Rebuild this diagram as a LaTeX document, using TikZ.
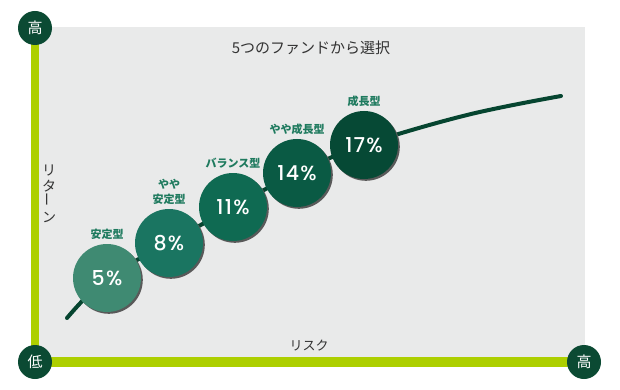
\documentclass[tikz,border=0pt]{standalone}
\usepackage{fontspec}
\usepackage{graphicx}
\setmainfont{Noto Sans CJK JP}
\newfontfamily\pctfont{Poppins}[UprightFont={* Medium}, LetterSpace=6]
\usetikzlibrary{positioning, shadows, backgrounds}

\definecolor{panelgray}{HTML}{E9EAEA}
\definecolor{bargreen}{HTML}{ADCF00}
\definecolor{axisgreen}{HTML}{0B4A33}
\definecolor{namegreen}{HTML}{1E7A5E}
\definecolor{curvegreen}{HTML}{064530}
\definecolor{textgray}{HTML}{333333}
\definecolor{fundA}{HTML}{3F8A72}
\definecolor{fundB}{HTML}{1A7561}
\definecolor{fundC}{HTML}{0F6A52}
\definecolor{fundD}{HTML}{0A5A44}
\definecolor{fundE}{HTML}{064935}

\begin{document}
\begin{tikzpicture}[x=1pt, y=-1pt,
	fund/.style={circle, minimum size=68pt, inner sep=0pt, text=white,
		font=\pctfont\fontsize{20.5}{20.5}\selectfont,
		drop shadow={shadow xshift=1.8pt, shadow yshift=-1.8pt, fill=black!65, opacity=1}},
	fundname/.style={text=namegreen, font=\bfseries\fontsize{11}{15}\selectfont, align=center, inner sep=1pt},
	axisend/.style={circle, fill=axisgreen, minimum size=34pt, inner sep=0pt, text=white,
		font=\fontsize{15}{15}\selectfont},
	axisbar/.style={draw=bargreen, line width=9pt},
	axislabel/.style={text=textgray, font=\fontsize{14}{15.5}\selectfont, inner sep=0pt}]

		\useasboundingbox (0,0) rectangle (620,390);

		% axis ends
		\node[axisend] (hitop)   at (35,28)   {高};
		\node[axisend] (low)     at (35,362)  {低};
		\node[axisend] (hiright) at (584,362) {高};

		\node[axislabel, font=\fontsize{15}{15}\selectfont] (title) at (311,48) {5つのファンドから選択};
		\node[axislabel, align=center] (ret) at (49,194) {リ\\タ\\\rotatebox{90}{ー}\\ン};
		\node[axislabel, font=\fontsize{13}{15}\selectfont] (risk) at (309,346) {リスク};

		% funds
		\node[fund, fill=fundA] (f5)  at (107,278) {5\%};
		\node[fund, fill=fundB] (f8)  at (169,243) {8\%};
		\node[fund, fill=fundC] (f11) at (233,207) {11\%};
		\node[fund, fill=fundD] (f14) at (297,173) {14\%};
		\node[fund, fill=fundE] (f17) at (364,145) {17\%};

		\node[fundname] (n5)  [above=3pt of f5]  {安定型};
		\node[fundname] (n8)  [above=3pt of f8]  {やや\\安定型};
		\node[fundname] (n11) [above=3pt of f11] {バランス型};
		\node[fundname] (n14) [above=3pt of f14] {やや成長型};
		\node[fundname] (n17) [above=3pt of f17] {成長型};

		\coordinate (start) at (67,318);
		\coordinate (bend)  at (467,115);
		\coordinate (end)   at (561,96);

		\begin{pgfonlayer}{background}
			\fill[panelgray] (39,27) rectangle (585,358);
			\draw[axisbar, line width=8pt] (hitop.center) -- (low.center);
			\draw[axisbar, line width=10pt] (low.center) -- (hiright.center);
			\draw[curvegreen, line width=4pt, line cap=round]
				plot[smooth, tension=0.6] coordinates {(start) (f5.center) (f8.center) (f11.center) (f14.center) (f17.center) (bend) (end)};
		\end{pgfonlayer}
	\end{tikzpicture}
\end{document}
